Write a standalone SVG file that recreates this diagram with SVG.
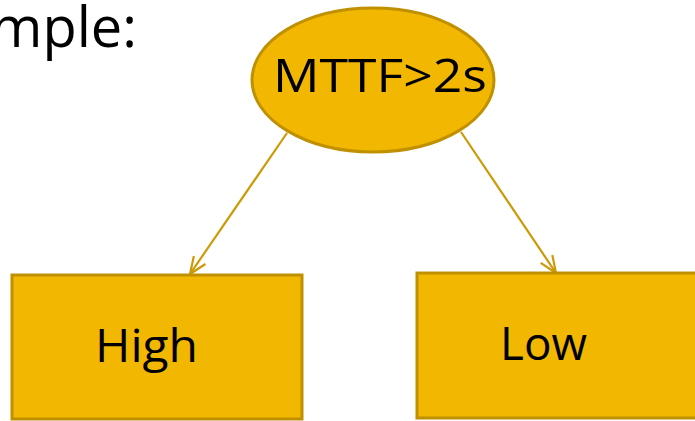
<svg xmlns="http://www.w3.org/2000/svg" width="695" height="421" viewBox="0 0 695 421">
<style>
.node{fill:#F2B700;stroke:#BF9000;stroke-width:3}
.lbl{font-family:"Open Sans","DejaVu Sans",sans-serif;fill:#000}
.edge{fill:none;stroke:#CC9A06;stroke-width:2.2}
</style>
<defs>
<marker id="arr" viewBox="0 0 20 20" refX="19" refY="10" markerWidth="20" markerHeight="20" markerUnits="userSpaceOnUse" orient="auto">
<path d="M2,3 L19,10 L2,17" fill="none" stroke="#CC9A06" stroke-width="2.2"/>
</marker>
</defs>
<rect width="695" height="421" fill="#fff"/>
<text class="lbl" x="137" y="47" font-size="56" text-anchor="end">mple:</text>
<g id="edges">
<line class="edge" x1="287" y1="133" x2="190" y2="274" marker-end="url(#arr)"/>
<line class="edge" x1="461" y1="132" x2="556" y2="273" marker-end="url(#arr)"/>
</g>
<g id="root">
<ellipse class="node" cx="373" cy="80" rx="121" ry="72"/>
<text class="lbl" x="273" y="92" font-size="46" textLength="214" lengthAdjust="spacingAndGlyphs">MTTF&gt;2s</text>
</g>
<g id="high">
<rect class="node" x="12" y="275" width="290" height="144"/>
<text class="lbl" x="95" y="362" font-size="46" textLength="103" lengthAdjust="spacingAndGlyphs">High</text>
</g>
<g id="low">
<rect class="node" x="417" y="273" width="290" height="145"/>
<text class="lbl" x="500" y="360" font-size="46" textLength="87" lengthAdjust="spacingAndGlyphs">Low</text>
</g>
</svg>
